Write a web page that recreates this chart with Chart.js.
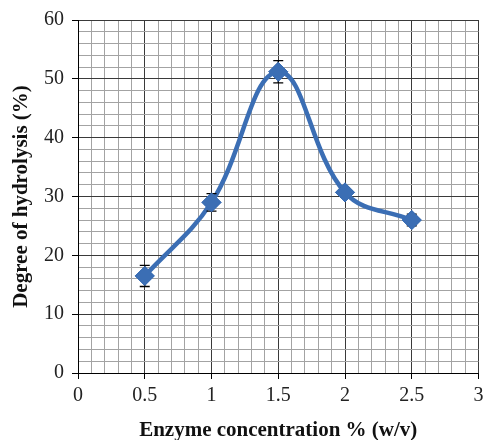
<!DOCTYPE html>
<html>
<head>
<meta charset="utf-8">
<script src="https://cdn.jsdelivr.net/npm/chart.js@4"></script>
<style>
  html, body { margin: 0; padding: 0; background: #fff; }
  #wrap { width: 489px; height: 440px; }
</style>
</head>
<body>
<div id="wrap"><canvas id="hydro"></canvas></div>
<script>
// data
const enzymeConc = [0.5, 1, 1.5, 2, 2.5];
const hydrolysis = [16.5, 29.0, 51.2, 30.7, 26.0];
const errorSize  = [1.8, 1.5, 1.9, 0.8, 1.0];

const lineBlue = '#3b6eb4';
const serif = "'Liberation Serif', 'Times New Roman', serif";

const isMajor = (v, step) => Math.abs(v / step - Math.round(v / step)) < 1e-6;

// error bars drawn under the markers
const errorBars = {
  id: 'errorBars',
  afterDatasetsDraw(chart) {
    const { ctx, scales: { x, y } } = chart;
    ctx.save();
    ctx.strokeStyle = '#000';
    ctx.lineWidth = 1.3;
    enzymeConc.forEach((c, i) => {
      const px = x.getPixelForValue(c);
      const top = y.getPixelForValue(hydrolysis[i] + errorSize[i]);
      const bot = y.getPixelForValue(hydrolysis[i] - errorSize[i]);
      ctx.beginPath();
      ctx.moveTo(px, top); ctx.lineTo(px, bot);
      ctx.moveTo(px - 5, top); ctx.lineTo(px + 5, top);
      ctx.moveTo(px - 5, bot); ctx.lineTo(px + 5, bot);
      ctx.stroke();
    });
    ctx.restore();
  }
};

// redraw markers on top of the error bars
const markersOnTop = {
  id: 'markersOnTop',
  afterDraw(chart) {
    const meta = chart.getDatasetMeta(0);
    const { ctx } = chart;
    ctx.save();
    meta.data.forEach(pt => pt.draw(ctx, chart.chartArea));
    ctx.restore();
  }
};

new Chart(document.getElementById('hydro'), {
  type: 'line',
  data: {
    datasets: [{
      data: enzymeConc.map((c, i) => ({ x: c, y: hydrolysis[i] })),
      borderColor: lineBlue,
      backgroundColor: lineBlue,
      borderWidth: 4.5,
      tension: 0.4,
      pointStyle: 'rectRot',
      pointRadius: 9.5,
      pointBorderWidth: 1,
      pointBorderColor: lineBlue,
      pointBackgroundColor: lineBlue
    }]
  },
  options: {
    responsive: true,
    maintainAspectRatio: false,
    animation: false,
    layout: { padding: { top: 19, right: 5, left: 0, bottom: 0 } },
    plugins: { legend: { display: false }, tooltip: { enabled: false } },
    scales: {
      x: {
        type: 'linear',
        min: 0, max: 3,
        afterFit(s) { s.height = 67; },
        ticks: {
          stepSize: 0.1,
          autoSkip: false,
          maxRotation: 0,
          padding: 5,
          color: '#222',
          font: { family: serif, size: 20 },
          callback: v => isMajor(v, 0.5) ? String(Math.round(v * 10) / 10) : ''
        },
        grid: {
          tickLength: 6,
          color: ctx => isMajor(ctx.tick.value, 0.5) ? '#3a3a3a' : '#a3a3a3',
          tickColor: ctx => isMajor(ctx.tick.value, 0.5) ? '#000' : 'rgba(0,0,0,0)'
        },
        border: { color: '#000', width: 1 },
        title: {
          display: true,
          text: 'Enzyme concentration % (w/v)',
          color: '#111',
          font: { family: serif, size: 21, weight: 'bold' },
          padding: { top: 0, bottom: -3 }
        }
      },
      y: {
        min: 0, max: 60,
        afterFit(s) { s.width = 78; },
        ticks: {
          stepSize: 2,
          autoSkip: false,
          padding: 8,
          color: '#222',
          font: { family: serif, size: 20 },
          callback: v => isMajor(v, 10) ? String(v) : ''
        },
        grid: {
          tickLength: 6,
          color: ctx => isMajor(ctx.tick.value, 10) ? '#3a3a3a' : '#a3a3a3',
          tickColor: ctx => isMajor(ctx.tick.value, 10) ? '#000' : 'rgba(0,0,0,0)'
        },
        border: { color: '#000', width: 1 },
        title: {
          display: true,
          text: 'Degree of hydrolysis (%)',
          color: '#111',
          font: { family: serif, size: 21, weight: 'bold' },
          padding: { top: 9, bottom: 0 }
        }
      }
    }
  },
  plugins: [errorBars, markersOnTop]
});
</script>
</body>
</html>
